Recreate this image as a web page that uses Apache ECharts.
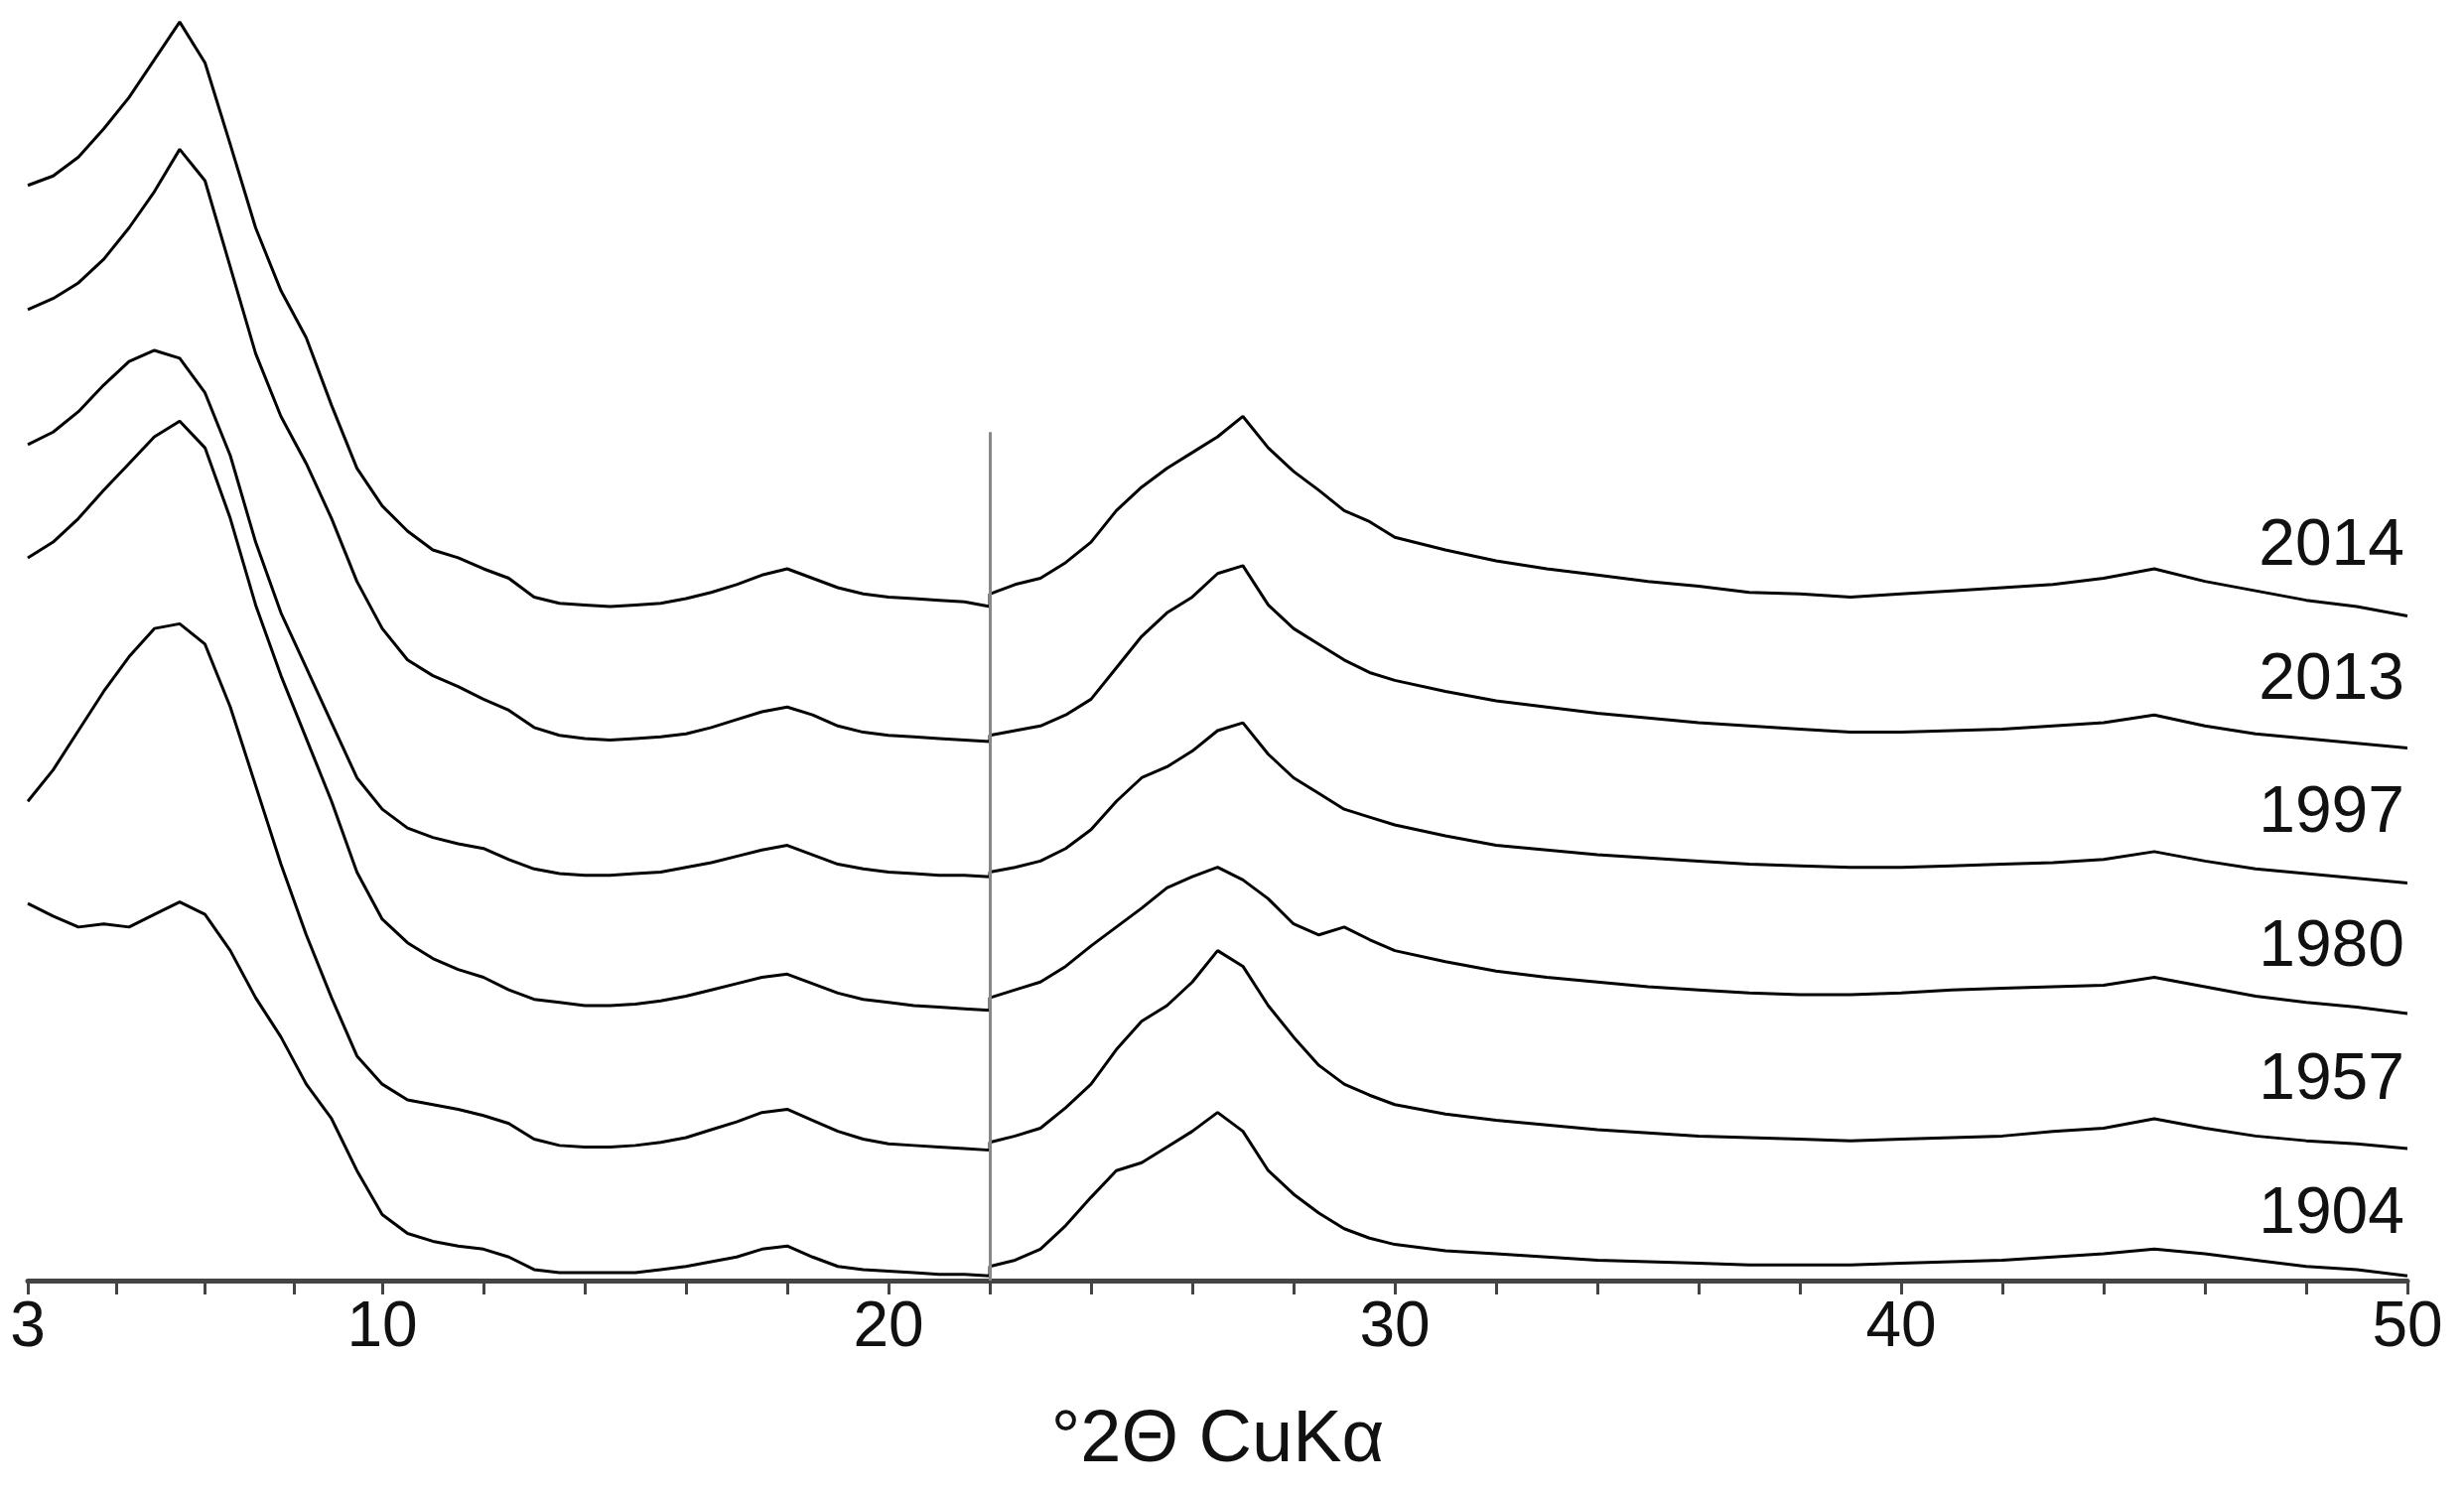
<!DOCTYPE html>
<html><head><meta charset="utf-8">
<script src="https://cdn.jsdelivr.net/npm/echarts@6/dist/echarts.min.js"></script>
<style>html,body{margin:0;padding:0;background:#fff}#c{width:2482px;height:1505px}</style>
</head><body><div id="c"></div>
<script>
// x positions (°2θ)
const xLeft = [3,3.5,4,4.5,5,5.5,6,6.5,7,7.5,8,8.5,9,9.5,10,10.5,11,11.5,12,12.5,13,13.5,14,14.5,15,15.5,16,16.5,17,17.5,18,18.5,19,19.5,20,20.5,21,21.5,22];
const xRight = [22,22.5,23,23.5,24,24.5,25,25.5,26,26.5,27,27.5,28,28.5,29,29.5,30,31,32,33,34,35,36,37,38,39,40,41,42,43,44,45,46,47,48,49,50];
const years = ['2014','2013','1997','1980','1957','1904'];
// values: depth below top of the chart frame (display units; larger = lower)
const left2014 = [118,112,100,82,62,38,14,40,92,145,185,215,258,298,322,338,350,355,362,368,380,384,385,386,385,384,381,377,372,366,362,368,374,378,380,381,382,383,386];
const left2013 = [197,190,180,165,145,122,95,115,170,225,265,295,330,370,400,420,430,437,445,452,463,468,470,471,470,469,467,463,458,453,450,455,462,466,468,469,470,471,472];
const left1997 = [283,275,262,245,230,223,228,250,290,345,390,425,460,495,515,527,533,537,540,547,553,556,557,557,556,555,552,549,545,541,538,544,550,553,555,556,557,557,558];
const left1980 = [355,345,330,312,295,278,268,285,330,385,430,470,510,555,585,600,610,617,622,630,636,638,640,640,639,637,634,630,626,622,620,626,632,636,638,640,641,642,643];
const left1957 = [510,490,465,440,418,400,397,410,450,500,550,595,635,672,690,700,703,706,710,715,725,729,730,730,729,727,724,719,714,708,706,713,720,725,728,729,730,731,732];
const left1904 = [575,583,590,588,590,582,574,582,605,635,660,690,712,745,773,785,790,793,795,800,808,810,810,810,810,808,806,803,800,795,793,800,806,808,809,810,811,811,812];
const right2014 = [378,372,368,358,345,325,310,298,288,278,265,285,300,312,325,332,342,350,357,362,366,370,373,377,378,380,378,376,374,372,368,362,370,376,382,386,392];
const right2013 = [468,465,462,455,445,425,405,390,380,365,360,385,400,410,420,428,433,440,446,450,454,457,460,462,464,466,466,465,464,462,460,455,462,467,470,473,476];
const right1997 = [555,552,548,540,528,510,495,488,478,465,460,480,495,505,515,520,525,532,538,541,544,546,548,550,551,552,552,551,550,549,547,542,548,553,556,559,562];
const right1980 = [635,630,625,615,602,590,578,565,558,552,560,572,588,595,590,598,605,612,618,622,625,628,630,632,633,633,632,630,629,628,627,622,628,634,638,641,645];
const right1957 = [727,723,718,705,690,668,650,640,625,605,615,640,660,678,690,697,703,709,713,716,719,721,723,724,725,726,725,724,723,720,718,712,718,723,726,728,731];
const right1904 = [806,802,795,780,762,745,740,730,720,708,720,745,760,772,782,788,792,796,798,800,802,803,804,805,805,805,804,803,802,800,798,795,798,802,806,808,812];
const tickValues = [3,4.75,6.5,8.25,10,12,14,16,18,20,22,24,26,28,30,32,34,36,38,40,42,44,46,48,50];
const labelValues = [3,10,20,30,40,50];
const labelY = [554,689,823,958,1092,1227];

const lefts=[left2014,left2013,left1997,left1980,left1957,left1904];
const rights=[right2014,right2013,right1997,right1980,right1957,right1904];
const FULL=815;
const series = years.map((y,i)=>{
  const d=[];
  xLeft.forEach((x,j)=>d.push([x,FULL-lefts[i][j]]));
  xRight.forEach((x,j)=>d.push([x,FULL-rights[i][j]]));
  const s={type:'line',name:y,data:d,showSymbol:false,symbol:'none',smooth:false,
    lineStyle:{color:'#000',width:3},animation:false,silent:true};
  if(i===0){s.markLine={silent:true,symbol:'none',label:{show:false},
    lineStyle:{color:'#888',width:3,type:'solid'},
    data:[[{coord:[22,0]},{coord:[22,FULL-275]}]]};}
  return s;
});
const chart=echarts.init(document.getElementById('c'));
chart.setOption({
  animation:false,
  grid:{left:28,right:57,top:0,bottom:215,containLabel:false},
  xAxis:{type:'value',min:3,max:50,
    name:'°2Θ CuKα',nameLocation:'middle',nameGap:125,
    nameTextStyle:{fontSize:74,color:'#111',fontFamily:'Liberation Sans Narrow, Liberation Sans, Arial'},
    axisLine:{lineStyle:{color:'#444',width:5}},
    axisTick:{show:true,length:14,lineStyle:{color:'#444',width:3},customValues:tickValues},
    axisLabel:{fontSize:64,color:'#111',margin:16,fontFamily:'Liberation Sans Narrow, Liberation Sans, Arial',customValues:labelValues},
    splitLine:{show:false}},
  yAxis:{type:'value',min:0,max:FULL,show:false},
  series:series,
  graphic:years.map((y,i)=>({type:'text',right:60,top:labelY[i]-36,
    style:{text:y,fontSize:66,fill:'#111',fontFamily:'Liberation Sans Narrow, Liberation Sans, Arial'}}))
});
</script></body></html>
